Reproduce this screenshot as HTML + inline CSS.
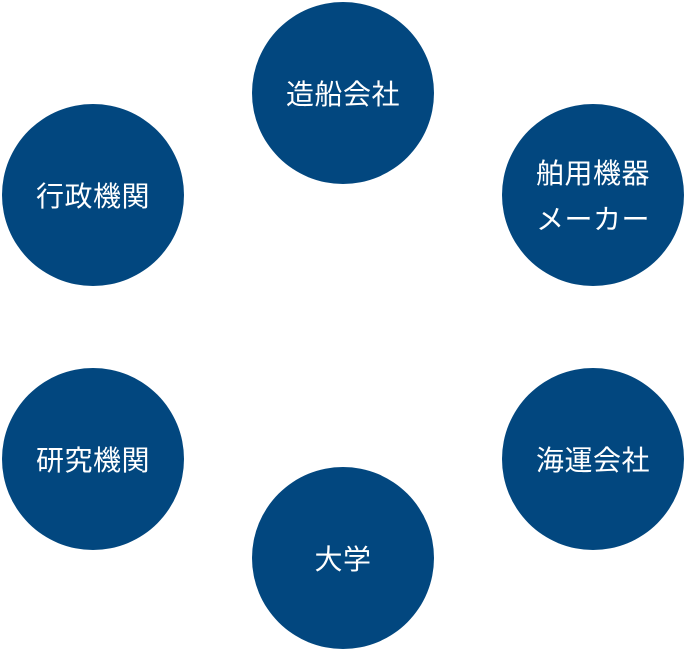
<!DOCTYPE html>
<html><head><meta charset="utf-8"><style>
html,body{margin:0;padding:0;background:#fff;}
body{width:686px;height:651px;position:relative;overflow:hidden;}
.c{position:absolute;width:182px;height:182px;border-radius:50%;background:#02477f;color:#fff;
display:flex;align-items:center;justify-content:center;text-align:center;box-sizing:border-box;padding-top:4px;
font-family:"Liberation Sans","Noto Sans CJK JP",sans-serif;font-size:28px;letter-spacing:0.5px;line-height:46px;}
</style></head><body>
<div class="c" style="left:252px;top:2px">造船会社</div>
<div class="c" style="left:502px;top:104px">舶用機器<br>メーカー</div>
<div class="c" style="left:2px;top:104px">行政機関</div>
<div class="c" style="left:2px;top:368px">研究機関</div>
<div class="c" style="left:502px;top:368px">海運会社</div>
<div class="c" style="left:252px;top:467px">大学</div>
</body></html>
